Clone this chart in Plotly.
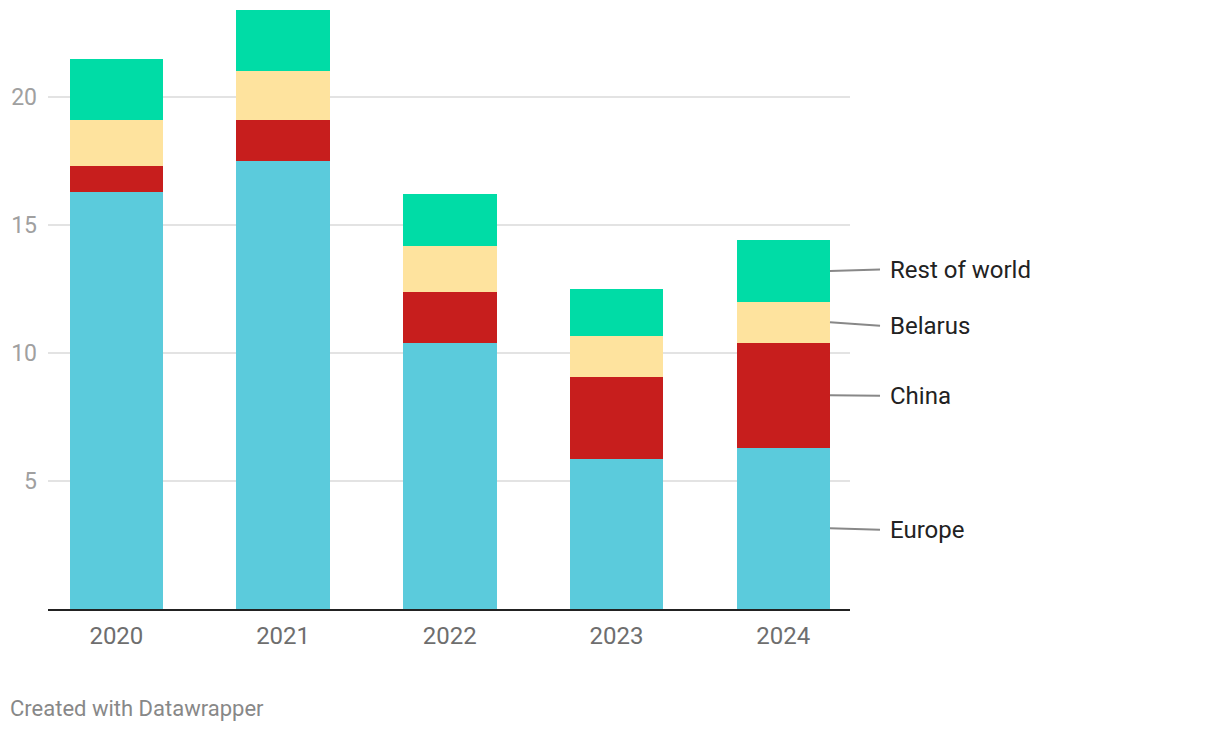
import plotly.graph_objects as go

years = ["2020", "2021", "2022", "2023", "2024"]
europe = [16.3, 17.5, 10.4, 5.85, 6.3]
china = [1.0, 1.6, 2.0, 3.2, 4.1]
belarus = [1.8, 1.9, 1.8, 1.6, 1.6]
rest_of_world = [2.4, 2.4, 2.0, 1.85, 2.4]

series = [
    ("Europe", europe, "#5bcbdc"),
    ("China", china, "#c71e1d"),
    ("Belarus", belarus, "#fee39e"),
    ("Rest of world", rest_of_world, "#00dca6"),
]
# small vertical nudges (px, positive = down) for the direct labels
label_nudge = {"Europe": 1.5, "China": 0.5, "Belarus": 3.5, "Rest of world": -1.5}

fig = go.Figure()
for name, vals, col in series:
    fig.add_trace(go.Bar(x=years, y=vals, name=name, marker=dict(color=col, line=dict(width=0))))

# page has an 8px body offset
OFF = 8
W, H = 1220 - OFF, 732 - OFF
ml, mt = 48 - OFF, 10 - OFF
mr = W - (850 - OFF)
mb = H - (609 - OFF)
YMAX = 23.4
fig.update_layout(
    barmode="stack",
    bargap=0.44,
    width=W, height=H,
    margin=dict(l=ml, r=mr, t=mt, b=mb, pad=0),
    paper_bgcolor="white", plot_bgcolor="white",
    showlegend=False,
    font=dict(family="Roboto", size=24, color="#333"),
    xaxis=dict(range=[-0.41, 4.40], showline=True, linecolor="#222", linewidth=2,
               ticks="", tickfont=dict(color="#6e6e6e", size=24), ticklabelstandoff=4,
               showgrid=False, fixedrange=True),
    yaxis=dict(range=[0, YMAX], tickvals=[5, 10, 15, 20], showgrid=True, gridcolor="#e3e3e3",
               gridwidth=2, zeroline=False, tickfont=dict(color="#a0a0a0", size=23),
               ticklabelstandoff=10, fixedrange=True),
)

# direct labels next to the last bar
cum = 0
last = len(years) - 1
plot_w = W - ml - mr
plot_h = H - mt - mb
px_per_unit = plot_h / YMAX
x0 = (830 - OFF - ml) / plot_w
x1 = (880 - OFF - ml) / plot_w
xt = (890 - OFF - ml) / plot_w
for name, vals, col in series:
    mid = cum + vals[last] / 2
    cum += vals[last]
    ty = mid - label_nudge[name] / px_per_unit
    fig.add_shape(type="line", xref="paper", yref="y", x0=x0, x1=x1, y0=mid, y1=ty,
                  line=dict(color="#888", width=2))
    fig.add_annotation(xref="paper", yref="y", x=xt, y=ty, text=name, showarrow=False,
                       xanchor="left", yanchor="middle", xshift=-2, font=dict(size=24, color="#222"))

fig.add_annotation(xref="paper", yref="paper", x=(10 - OFF - ml) / plot_w,
                   y=-(708 - 609) / plot_h,
                   text="Created with Datawrapper", showarrow=False, xanchor="left", yanchor="middle",
                   xshift=-2, font=dict(size=22, color="#888"))

fig.write_html("out.html")
